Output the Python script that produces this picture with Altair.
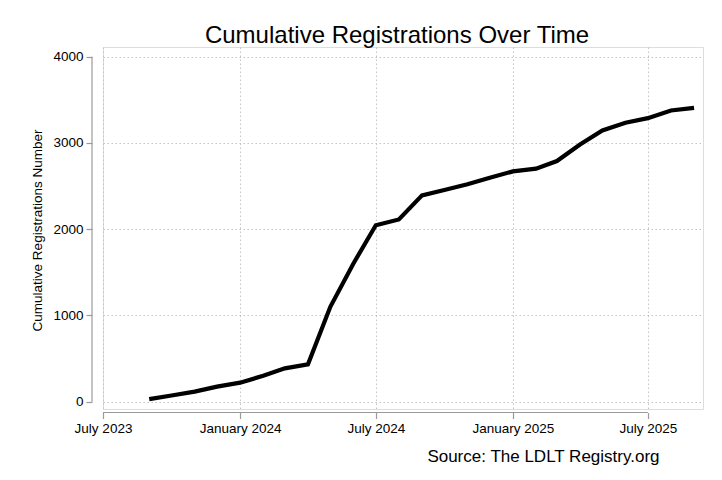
import altair as alt
import pandas as pd

months = ["2023-09-01", "2023-10-01", "2023-11-01", "2023-12-01",
          "2024-01-01", "2024-02-01", "2024-03-01", "2024-04-01",
          "2024-05-01", "2024-06-01", "2024-07-01", "2024-08-01",
          "2024-09-01", "2024-10-01", "2024-11-01", "2024-12-01",
          "2025-01-01", "2025-02-01", "2025-03-01", "2025-04-01",
          "2025-05-01", "2025-06-01", "2025-07-01", "2025-08-01",
          "2025-09-01"]
cumulative = [30, 72, 116, 174,
              220, 300, 386, 433,
              1100, 1602, 2045, 2113,
              2392, 2455, 2520, 2597,
              2670, 2701, 2790, 2982,
              3145, 3233, 3287, 3376,
              3407]

y_ticks = [0, 1000, 2000, 3000, 4000]
x_tick_dates = [(2023, 7), (2024, 1), (2024, 7), (2025, 1), (2025, 7)]

df = pd.DataFrame({"date": months, "value": cumulative})

FONT = "Liberation Sans"
W, H = 600, 362
GRID = "#c4c4c4"
AXC = "#9a9a9a"

def dt(y, m, d=1):
    return alt.DateTime(year=y, month=m, date=d, utc=True)

x_scale = alt.Scale(type="utc", domain=[dt(2023, 7), dt(2025, 9, 13)], nice=False)
y_scale = alt.Scale(domain=[-85, 4112], nice=False, zero=False)

line = alt.Chart(df).mark_line(color="black", strokeWidth=4.2).encode(
    x=alt.X("date:T", scale=x_scale,
            axis=alt.Axis(values=[dt(y, m) for y, m in x_tick_dates],
                          labelExpr="utcFormat(datum.value, '%B %Y')",
                          domain=False, offset=3.5, tickSize=6, tickColor=AXC,
                          tickWidth=1.2,
                          labelFont=FONT, labelFontSize=13.5, labelColor="black",
                          labelPadding=3, labelFlush=False, labelOverlap=False,
                          grid=True, gridColor=GRID, gridDash=[1.5, 2.5], gridWidth=1,
                          title="Source: The LDLT Registry.org",
                          titleFont=FONT, titleFontSize=17, titleFontWeight="normal",
                          titleColor="black", titleAnchor="end", titleAlign="right",
                          titleBaseline="alphabetic", titleX=556, titleY=49)),
    y=alt.Y("value:Q", scale=y_scale,
            axis=alt.Axis(values=y_ticks, format="d",
                          domain=False, offset=11, tickSize=6, tickColor=AXC,
                          tickWidth=1.2,
                          labelFont=FONT, labelFontSize=13.5, labelColor="black",
                          labelPadding=3,
                          grid=True, gridColor=GRID, gridDash=[1.5, 2.5], gridWidth=1,
                          title="Cumulative Registrations Number",
                          titleFont=FONT, titleFontSize=13.5, titleFontWeight="normal",
                          titleColor="black", titleAngle=270, titleAlign="center",
                          titleBaseline="middle", titleX=-55, titleY=183)),
)

ref = pd.DataFrame({"a": [0]})
y_axis_line = alt.Chart(ref).mark_rule(color=AXC, strokeWidth=1.2).encode(
    x=alt.value(-11),
    y=alt.datum(0, scale=y_scale),
    y2=alt.datum(4000),
)
x_axis_line = alt.Chart(ref).mark_rule(color=AXC, strokeWidth=1.2).encode(
    x=alt.datum(dt(2023, 7), type="temporal", scale=x_scale),
    x2=alt.datum(dt(2025, 7)),
    y=alt.value(H + 3.5),
)

chart = alt.layer(line, y_axis_line, x_axis_line).properties(
    width=W, height=H,
    padding={"left": 95, "top": 39, "right": 10, "bottom": 62},
    autosize=alt.AutoSizeParams(type="none"),
    title=alt.TitleParams("Cumulative Registrations Over Time", font=FONT,
                          fontSize=24, fontWeight="normal", color="black",
                          anchor="middle", dx=-6, dy=23, baseline="alphabetic",
                          offset=3.5),
).configure_view(stroke=None).configure(background="white")

chart.save("out.html", embed_options={"renderer": "svg", "actions": False})
